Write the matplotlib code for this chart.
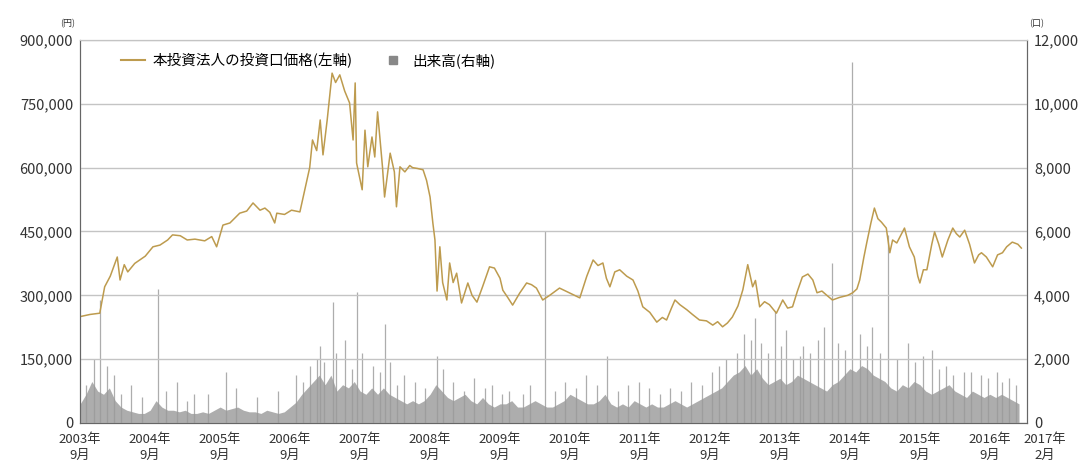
import matplotlib
matplotlib.use("Agg")
import matplotlib.pyplot as plt
import matplotlib.transforms as mtransforms
from matplotlib.lines import Line2D

plt.rcParams['font.family'] = ['Noto Sans CJK JP', 'DejaVu Sans']

# price (yen, thousands) against decimal year
price_t = [2003.67, 2003.81, 2003.95, 2004.02, 2004.10, 2004.20, 2004.24, 2004.30, 2004.35, 2004.45,
           2004.60, 2004.71, 2004.81, 2004.92, 2004.99, 2005.10, 2005.20, 2005.31, 2005.45, 2005.55,
           2005.62, 2005.71, 2005.81, 2005.95, 2006.05, 2006.14, 2006.24, 2006.31, 2006.38, 2006.45,
           2006.48, 2006.59, 2006.69, 2006.81, 2006.88, 2006.95, 2006.99, 2007.05, 2007.10, 2007.14,
           2007.20, 2007.27, 2007.32, 2007.38, 2007.45, 2007.52, 2007.57, 2007.60, 2007.62, 2007.70,
           2007.74, 2007.78, 2007.84, 2007.88, 2007.92, 2007.99, 2008.02, 2008.10, 2008.16, 2008.19,
           2008.24, 2008.31, 2008.38, 2008.42, 2008.49, 2008.57, 2008.62, 2008.67, 2008.71, 2008.74,
           2008.77, 2008.81, 2008.85, 2008.91, 2008.95, 2009.00, 2009.05, 2009.12, 2009.21, 2009.27,
           2009.34, 2009.42, 2009.52, 2009.59, 2009.67, 2009.71, 2009.78, 2009.85, 2009.95, 2010.05,
           2010.12, 2010.19, 2010.28, 2010.38, 2010.52, 2010.67, 2010.81, 2010.91, 2011.00, 2011.07,
           2011.14, 2011.19, 2011.24, 2011.31, 2011.38, 2011.48, 2011.57, 2011.64, 2011.71, 2011.81,
           2011.91, 2011.99, 2012.05, 2012.12, 2012.17, 2012.24, 2012.34, 2012.42, 2012.52, 2012.62,
           2012.71, 2012.78, 2012.85, 2012.92, 2012.99, 2013.07, 2013.14, 2013.21, 2013.24, 2013.28,
           2013.32, 2013.38, 2013.45, 2013.52, 2013.62, 2013.71, 2013.78, 2013.85, 2013.92, 2013.99,
           2014.07, 2014.14, 2014.20, 2014.27, 2014.34, 2014.42, 2014.52, 2014.64, 2014.71, 2014.77,
           2014.81, 2014.87, 2014.91, 2014.97, 2015.02, 2015.07, 2015.12, 2015.19, 2015.24, 2015.28,
           2015.34, 2015.41, 2015.45, 2015.52, 2015.59, 2015.64, 2015.67, 2015.72, 2015.77, 2015.84,
           2015.88, 2015.94, 2015.99, 2016.07, 2016.14, 2016.19, 2016.24, 2016.31, 2016.38, 2016.45,
           2016.51, 2016.55, 2016.62, 2016.71, 2016.78, 2016.85, 2016.91, 2016.99, 2017.07, 2017.12]
price_v = [250, 255, 258, 320, 345, 390, 336, 372, 355, 375,
           392, 414, 418, 430, 442, 440, 430, 432, 428, 438,
           414, 465, 470, 493, 498, 517, 500, 505, 495, 470,
           493, 490, 500, 496, 548, 600, 665, 640, 712, 630,
           712, 822, 800, 818, 780, 752, 665, 799, 611, 548,
           688, 602, 672, 625, 731, 602, 531, 634, 590, 508,
           602, 590, 605, 600, 598, 595, 570, 531, 470, 430,
           310, 414, 330, 289, 376, 330, 352, 282, 329, 300,
           284, 320, 367, 364, 340, 312, 295, 277, 305, 329,
           325, 317, 289, 300, 317, 305, 294, 345, 383, 370,
           376, 340, 320, 355, 360, 345, 336, 310, 273, 260,
           237, 248, 242, 270, 289, 278, 266, 255, 242, 240,
           230, 238, 226, 235, 249, 275, 313, 372, 350, 320,
           335, 273, 285, 278, 258, 289, 270, 273, 310, 343,
           350, 336, 306, 310, 300, 289, 295, 300, 306, 315,
           336, 390, 423, 470, 505, 480, 472, 458, 400, 430,
           423, 445, 458, 414, 390, 345, 329, 360, 360, 420,
           449, 420, 390, 430, 458, 445, 437, 453, 420, 376,
           395, 400, 390, 367, 395, 400, 414, 425, 420, 411]

# monthly typical volume, Sep 2003 .. Feb 2017
vol_base = [600, 900, 1300, 1000,
            900, 1100, 700, 500, 400, 350, 300, 300, 400, 700, 500, 400,
            400, 350, 400, 300, 300, 350, 300, 400, 500, 400, 450, 500,
            400, 350, 350, 300, 400, 350, 300, 350, 500, 650, 900, 1100,
            1300, 1500, 1200, 1500, 1000, 1200, 1100, 1300, 1000, 900, 1100, 900,
            1100, 900, 800, 700, 600, 700, 600, 700, 900, 1200, 1000, 800,
            700, 800, 900, 700, 600, 800, 600, 500, 600, 600, 700, 500,
            500, 600, 700, 600, 500, 500, 600, 700, 900, 800, 700, 600,
            600, 700, 900, 600, 500, 600, 500, 700, 600, 500, 600, 500,
            500, 600, 700, 600, 500, 600, 700, 800, 900, 1000, 1100, 1300,
            1500, 1600, 1800, 1500, 1700, 1400, 1200, 1300, 1400, 1200, 1300, 1500,
            1400, 1300, 1200, 1100, 1000, 1200, 1300, 1500, 1700, 1600, 1800, 1700,
            1500, 1400, 1300, 1100, 1000, 1200, 1100, 1300, 1200, 1000, 900, 1000,
            1100, 1200, 1000, 900, 800, 1000, 900, 800, 900, 800, 900, 800,
            700, 600]
vol_base_t = [2003.67 + i / 12 for i in range(len(vol_base))]

# single-day volume spikes
spike_t = [2003.87, 2003.95, 2004.05, 2004.15, 2004.40, 2004.78, 2005.05, 2005.30, 2005.75, 2006.50,
           2006.95, 2007.05, 2007.10, 2007.28, 2007.32, 2007.45, 2007.62, 2007.70, 2007.85, 2008.02,
           2008.10, 2008.30, 2008.45, 2008.77, 2008.85, 2009.00, 2009.30, 2009.55, 2009.80, 2010.10,
           2010.31, 2010.60, 2010.90, 2011.20, 2011.50, 2011.80, 2012.10, 2012.40, 2012.70, 2012.90,
           2013.15, 2013.31, 2013.40, 2013.50, 2013.60, 2013.75, 2013.85, 2014.00, 2014.21, 2014.30,
           2014.41, 2014.70, 2014.81, 2014.91, 2014.99, 2015.21, 2015.35, 2015.50, 2015.71, 2015.85,
           2016.05, 2016.30, 2016.55, 2016.77, 2016.95,
           2003.75, 2004.25, 2004.55, 2004.90, 2005.20, 2005.50, 2005.90, 2006.20, 2006.75, 2006.85,
           2007.15, 2007.55, 2007.95, 2008.20, 2008.60, 2009.15, 2009.45, 2009.70, 2010.00, 2010.45,
           2010.75, 2011.05, 2011.35, 2011.65, 2011.95, 2012.25, 2012.55, 2012.80, 2013.05, 2013.25,
           2013.68, 2013.95, 2014.10, 2014.50, 2014.60, 2015.10, 2015.60, 2015.95, 2016.15, 2016.40,
           2016.65, 2016.85, 2017.05]
spike_v = [2000, 3850, 1800, 1500, 1200, 4200, 1300, 900, 1600, 1000,
           1800, 2000, 2400, 3800, 2200, 2600, 4100, 2200, 1800, 3100,
           1900, 1500, 1300, 2100, 1700, 1300, 1400, 1200, 1000, 1200,
           6000, 1300, 1500, 2100, 1200, 1100, 1100, 1300, 1600, 2000,
           2800, 3300, 2500, 2200, 3500, 2900, 2000, 2400, 2600, 3000,
           5000, 11300, 2800, 2400, 3000, 5900, 2000, 2500, 2100, 2300,
           1800, 1600, 1500, 1600, 1400,
           1200, 900, 800, 1000, 700, 900, 1100, 800, 1500, 1300,
           1900, 1700, 1600, 1200, 1100, 1000, 1100, 900, 900, 1000,
           1100, 1200, 1000, 1300, 900, 1000, 1200, 1800, 2200, 2600,
           2400, 2100, 2200, 2500, 2300, 2200, 1900, 1700, 1500, 1600,
           1400, 1300, 1200]

tick_t = [2003.667 + k for k in range(14)] + [2017.083]
tick_lab = ['%d年\n9月' % (2003 + k) for k in range(14)] + ['2017年\n2月']

gold = '#bd9b4e'
gray = '#999999'

fig = plt.figure(figsize=(10.85, 4.70), dpi=100)
ax = fig.add_axes([0.0737, 0.1, 0.8728, 0.815])
ax2 = ax.twinx()

# volume on right axis
ax2.fill_between(vol_base_t, 0, vol_base, color=gray, alpha=0.8, lw=0)
ax2.vlines(spike_t, 0, spike_v, color=gray, lw=0.9, alpha=0.8)
ax2.set_ylim(0, 12000)
ax2.set_yticks(range(0, 12001, 2000))
ax2.set_yticklabels(['{:,}'.format(v) for v in range(0, 12001, 2000)])

# price on left axis, in front
ax.set_zorder(ax2.get_zorder() + 1)
ax.patch.set_visible(False)
ax.plot(price_t, [v * 1000 for v in price_v], color=gold, lw=1.1)
ax.set_ylim(0, 900000)
ax.set_yticks(range(0, 900001, 150000))
ax.set_yticklabels(['{:,}'.format(v) for v in range(0, 900001, 150000)])
ax.set_xlim(2003.667, 2017.2)
ax.set_xticks(tick_t)
ax.set_xticklabels(tick_lab, linespacing=1.35)
ax.grid(axis='y', color='#c4c4c4', lw=1)

for a in (ax, ax2):
    a.tick_params(length=0, labelsize=10.5, colors='#333333', pad=5)
    for s in a.spines.values():
        s.set_color('#666666')
    a.spines['top'].set_color('#c4c4c4')
ax.tick_params(axis='x', labelsize=9.5, pad=7)

# shift the last date label right like the original
lab = ax.get_xticklabels()[-1]
lab.set_transform(lab.get_transform() + mtransforms.ScaledTranslation(0.26, 0, fig.dpi_scale_trans))

fig.text(0.062, 0.945, '(円)', fontsize=6.5, color='#333333', ha='center')
fig.text(0.955, 0.945, '(口)', fontsize=6.5, color='#333333', ha='center')

handles = [Line2D([], [], color=gold, lw=1.5),
           Line2D([], [], color='#888888', marker='s', ls='none', markersize=6)]
ax.legend(handles, ['本投資法人の投資口価格(左軸)', '出来高(右軸)'], loc='upper left',
          bbox_to_anchor=(0.03, 1.0), ncol=2, frameon=False, fontsize=10.5,
          handlelength=1.6, columnspacing=2.0, handletextpad=0.5)

fig.savefig('out.png', dpi=100)
